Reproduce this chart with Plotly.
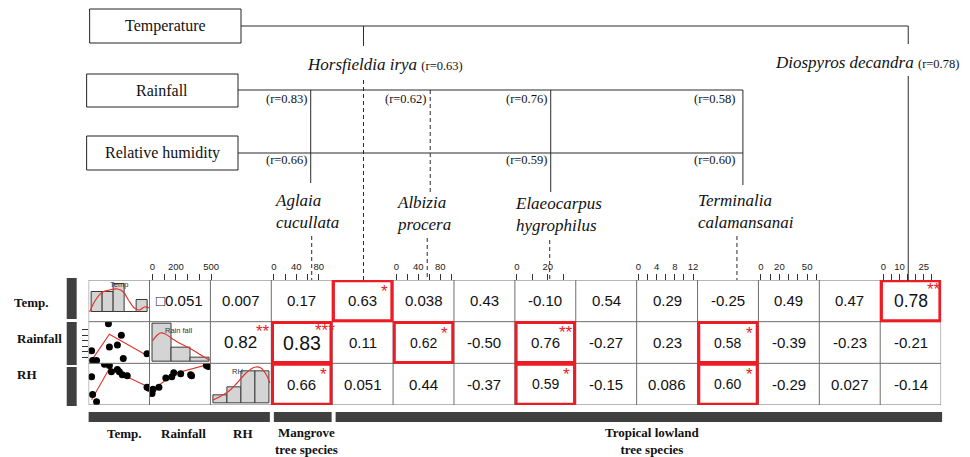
import plotly.graph_objects as go

W, H = 970, 457

# ---------------- data ----------------
row_labels = ["Temp.", "Rainfall", "RH"]
group_labels = ["Temp.", "Rainfall", "RH", "Mangrove<br>tree species", "Tropical lowland<br>tree species"]

r_temp = ["", "\u25a10.051", "0.007", "0.17", "0.63", "0.038", "0.43", "-0.10", "0.54", "0.29", "-0.25", "0.49", "0.47", "0.78"]
r_rain = ["", "", "0.82", "0.83", "0.11", "0.62", "-0.50", "0.76", "-0.27", "0.23", "0.58", "-0.39", "-0.23", "-0.21"]
r_rh = ["", "", "", "0.66", "0.051", "0.44", "-0.37", "0.59", "-0.15", "0.086", "0.60", "-0.29", "0.027", "-0.14"]
sig_temp = ["", "", "", "", "*", "", "", "", "", "", "", "", "", "**"]
sig_rain = ["", "", "**", "***", "", "*", "", "**", "", "", "*", "", "", ""]
sig_rh = ["", "", "", "*", "", "", "", "*", "", "", "*", "", "", ""]

env_boxes = ["Temperature", "Rainfall", "Relative humidity"]
sp_horsfieldia = ("Horsfieldia irya", "0.63")
sp_diospyros = ("Diospyros decandra", "0.78")
sp_two_line = ["Aglaia<br>cucullata", "Albizia<br>procera", "Elaeocarpus<br>hygrophilus", "Terminalia<br>calamansanai"]
r_rain_links = ["0.83", "0.62", "0.76", "0.58"]
r_rh_links = ["0.66", "0.59", "0.60"]

# top axis ticks of the variable columns
axis_cols = [1, 3, 5, 7, 9, 11, 13]
axis_ticks = [[0, 100, 200, 300, 400, 500], [0, 20, 40, 60, 80], [0, 20, 40, 60, 80, 100],
              [0, 10, 20, 30], [0, 2, 4, 6, 8, 10, 12], [0, 10, 20, 30, 40, 50, 60], [0, 5, 10, 15, 20, 25, 30]]
axis_labelled = [[0, 200, 500], [0, 40, 80], [0, 40, 80], [0, 20], [0, 4, 8, 12], [0, 20, 50], [0, 10, 25]]

# diagonal histograms (bin centres in panel units, counts)
temp_hist_x = [0.141, 0.324, 0.507, 0.690, 0.873]
temp_hist_n = [5, 5, 7, 0, 3]
temp_hist_w = 0.183
rain_hist_x = [0.202, 0.513, 0.824]
rain_hist_n = [8, 3, 1]
rain_hist_w = 0.311
rh_hist_x = [0.161, 0.394, 0.627, 0.860]
rh_hist_n = [1, 2, 4, 4]
rh_hist_w = 0.233

temp_dens_x = [0.016, 0.114, 0.229, 0.343, 0.474, 0.572, 0.654, 0.752, 0.834, 0.916, 0.998]
temp_dens_y = [0.0, 3.0, 5.0, 5.5, 5.75, 5.0, 3.0, 1.0, 0.5, 1.25, 1.0]
rain_dens_x = [0.047, 0.112, 0.178, 0.259, 0.357, 0.488, 0.652, 0.815, 0.979]
rain_dens_y = [4.42, 5.47, 6.1, 5.89, 5.05, 4.0, 2.95, 1.68, 0.42]
rh_dens_x = [0.044, 0.175, 0.306, 0.437, 0.568, 0.666, 0.748, 0.829, 0.911, 0.977]
rh_dens_y = [0.43, 0.93, 1.54, 2.53, 3.64, 4.26, 4.51, 4.38, 3.64, 2.53]

# scatter panels (panel units)
rt_x = [0.049, 0.065, 0.13, 0.325, 0.341, 0.472, 0.537, 0.569, 0.959]
rt_y = [0.302, 0.07, 0.07, 0.953, 0.395, 0.442, 0.674, 0.116, 0.233]
rt_fit_x = [0.049, 0.341, 0.959]
rt_fit_y = [0.07, 0.698, 0.186]

ht_x = [0.049, 0.065, 0.13, 0.26, 0.341, 0.374, 0.472, 0.504, 0.553, 0.634, 0.959, 0.992]
ht_y = [0.675, 0.25, 0.075, 0.975, 0.95, 0.8, 0.85, 0.8, 0.725, 0.7, 0.425, 0.4]
ht_fit_x = [0.049, 0.341, 0.992]
ht_fit_y = [0.125, 0.875, 0.425]

hr_x = [0.024, 0.057, 0.041, 0.154, 0.268, 0.366, 0.398, 0.512, 0.675, 0.691, 0.935, 0.967]
hr_y = [0.35, 0.375, 0.275, 0.425, 0.65, 0.675, 0.775, 0.75, 0.725, 0.7, 0.95, 0.925]
hr_fit_x = [0.024, 0.398, 0.967]
hr_fit_y = [0.325, 0.75, 0.975]

# ---------------- styling / geometry ----------------
SANS = "Liberation Sans, Arial, sans-serif"
SERIF = "Liberation Serif, Times New Roman, serif"
RED = "#ec1c24"
DARK = "#404040"
GRID = "#6e6e6e"
LINE = "#2a2a2a"

MX0, MX1, MY0, MY1 = 89.0, 945.0, 280.0, 405.0
NC, NR = 14, 3
cw = (MX1 - MX0) / NC
rh_ = (MY1 - MY0) / NR
col_edges = [MX0 + i * cw for i in range(NC + 1)]
row_edges = [MY0 + i * rh_ for i in range(NR + 1)]

fig = go.Figure()
layout_axes = {}
shapes = []
annots = []
counter = [2]

# main pixel axes
fig.add_trace(go.Scatter(x=[], y=[], xaxis="x", yaxis="y", showlegend=False, hoverinfo="skip"))
layout_axes["xaxis"] = dict(domain=[0, 1], range=[0, W], visible=False, fixedrange=True)
layout_axes["yaxis"] = dict(domain=[0, 1], range=[H, 0], visible=False, fixedrange=True)

# matrix axes
layout_axes["xaxis2"] = dict(domain=[MX0 / W, MX1 / W], range=[0, NC], visible=False, anchor="y2")
layout_axes["yaxis2"] = dict(domain=[1 - MY1 / H, 1 - MY0 / H], range=[NR, 0], visible=False, anchor="x2")
fig.add_trace(go.Scatter(x=[], y=[], xaxis="x2", yaxis="y2", showlegend=False, hoverinfo="skip"))


def new_axes(x0, x1, y0, y1, xr, yr, yextra=None):
    counter[0] += 1
    i = counter[0]
    layout_axes[f"xaxis{i}"] = dict(domain=[x0 / W, x1 / W], range=xr, visible=False, anchor=f"y{i}")
    ya = dict(domain=[1 - y1 / H, 1 - y0 / H], range=yr, visible=False, anchor=f"x{i}")
    if yextra:
        ya.update(yextra)
    layout_axes[f"yaxis{i}"] = ya
    return f"x{i}", f"y{i}"


def line(x0, y0, x1, y1, dash=None, width=1, color=LINE, xref="x", yref="y"):
    d = dict(type="line", x0=x0, y0=y0, x1=x1, y1=y1, xref=xref, yref=yref,
             line=dict(color=color, width=width))
    if dash:
        d["line"]["dash"] = dash
    shapes.append(d)


def rect(x0, y0, x1, y1, fill=None, lc=None, lw=1, xref="x", yref="y"):
    shapes.append(dict(type="rect", x0=x0, y0=y0, x1=x1, y1=y1, xref=xref, yref=yref,
                       fillcolor=fill if fill else "rgba(0,0,0,0)",
                       line=dict(color=lc if lc else "rgba(0,0,0,0)", width=lw if lc else 0)))


def text(x, y, s, size, family=SANS, color="#111", xanchor="center", yanchor="middle",
         xref="x", yref="y", xshift=0, yshift=0, align="center"):
    annots.append(dict(x=x, y=y, text=s, xref=xref, yref=yref, showarrow=False,
                       xanchor=xanchor, yanchor=yanchor, xshift=xshift, yshift=yshift, align=align,
                       font=dict(size=size, family=family, color=color)))


# ---------- histograms on the diagonal ----------
def hist_panel(c, r, xs, ns, w, dx, dy, yr, label, lab_xy):
    xa, ya = new_axes(col_edges[c], col_edges[c + 1], row_edges[r], row_edges[r + 1], [0, 1], yr)
    fig.add_trace(go.Bar(x=xs, y=ns, width=w, xaxis=xa, yaxis=ya, showlegend=False, hoverinfo="skip",
                         marker=dict(color="#d4d4d4", line=dict(color="#3a3a3a", width=1))))
    fig.add_trace(go.Scatter(x=dx, y=dy, xaxis=xa, yaxis=ya, mode="lines", showlegend=False,
                             hoverinfo="skip", line=dict(color="#e0352b", width=1.2, shape="spline")))
    text(lab_xy[0], lab_xy[1], label, 7.5, color="#333", xref=xa, yref=ya)


hist_panel(0, 0, temp_hist_x, temp_hist_n, temp_hist_w, temp_dens_x, temp_dens_y, [-2.42, 8.0], "Temp", (0.5, 7.0))
hist_panel(1, 1, rain_hist_x, rain_hist_n, rain_hist_w, rain_dens_x, rain_dens_y, [-0.27, 8.48], "Rain fall", (0.47, 6.6))
hist_panel(2, 2, rh_hist_x, rh_hist_n, rh_hist_w, rh_dens_x, rh_dens_y, [-0.185, 4.96], "RH", (0.45, 3.9))


# ---------- scatter panels ----------
def scatter_panel(c, r, xs, ys, fx, fy, yextra=None):
    xa, ya = new_axes(col_edges[c], col_edges[c + 1], row_edges[r], row_edges[r + 1], [0, 1], [0, 1], yextra)
    fig.add_trace(go.Scatter(x=fx, y=fy, xaxis=xa, yaxis=ya, mode="lines", showlegend=False,
                             hoverinfo="skip", line=dict(color="#e0352b", width=1.1)))
    fig.add_trace(go.Scatter(x=xs, y=ys, xaxis=xa, yaxis=ya, mode="markers", showlegend=False,
                             hoverinfo="skip", marker=dict(color="#000", size=7)))


scatter_panel(0, 1, rt_x, rt_y, rt_fit_x, rt_fit_y,
              yextra=dict(visible=True, showticklabels=False, ticks="outside", ticklen=6, tickcolor="#333",
                          tickvals=[0.15, 0.28, 0.41, 0.54, 0.67, 0.80], showline=False, showgrid=False,
                          zeroline=False))
scatter_panel(0, 2, ht_x, ht_y, ht_fit_x, ht_fit_y)
scatter_panel(1, 2, hr_x, hr_y, hr_fit_x, hr_fit_y)

# ---------- matrix grid ----------
for yv in range(NR + 1):
    line(0, yv, NC, yv, color=GRID, xref="x2", yref="y2")
for xv in range(NC + 1):
    line(xv, 0, xv, NR, color=GRID, xref="x2", yref="y2")

# ---------- correlation values ----------
big = {(1, 2): 17, (1, 3): 19.5, (0, 13): 17.5}
small = {(1, 5): 14, (2, 7): 14, (1, 10): 14, (2, 10): 14}
cw_map = {".": 0.278, "-": 0.333, "\u25a1": 0.6}


def tw(s, fs):
    return sum(cw_map.get(ch, 0.556) for ch in s) * fs


for r, (vals, sigs) in enumerate([(r_temp, sig_temp), (r_rain, sig_rain), (r_rh, sig_rh)]):
    for c, (v, sg) in enumerate(zip(vals, sigs)):
        if not v:
            continue
        fs = big.get((r, c), small.get((r, c), 15))
        text(c + 0.5, r + 0.5, v, fs, xref="x2", yref="y2")
        if sg:
            text(c + 0.5, r + 0.5, sg, 17, color=RED, xanchor="left", xref="x2", yref="y2",
                 xshift=tw(v, fs) / 2 + 2 - 5 * (len(sg) - 1), yshift=fs * 0.45 + 3)
            if c >= 3:
                rect(c + 0.02, r + 0.02, c + 0.98, r + 0.98, lc=RED, lw=3, xref="x2", yref="y2")

# ---------- top tick axes ----------
axis_zero_px = [153, 275, 398, 519, 641, 764, 887]
axis_ppu = [0.118, 0.5625, 0.55, 1.55, 4.58, 0.93, 1.62]
for k, (c, tv, tl) in enumerate(zip(axis_cols, axis_ticks, axis_labelled)):
    counter[0] += 1
    i = counter[0]
    z, p = axis_zero_px[k], axis_ppu[k]
    hi = max(tv)
    layout_axes[f"xaxis{i}"] = dict(
        domain=[(z - 4) / W, (z + hi * p + 4) / W], range=[-4 / p, hi + 4 / p], anchor="free",
        position=1 - MY0 / H, side="top", ticks="outside", ticklen=6, tickwidth=1, tickcolor="#333",
        tickvals=tv, ticktext=[str(t) if t in tl else "" for t in tv],
        tickfont=dict(size=9.5, family=SANS, color="#222"), showline=False, showgrid=False, zeroline=False)
    fig.add_trace(go.Scatter(x=[], y=[], xaxis=f"x{i}", yaxis="y", showlegend=False, hoverinfo="skip"))

# ---------- left and bottom dark bars ----------
for y0, y1 in [(278, 319), (322, 365), (367, 406)]:
    rect(67, y0, 77, y1, fill=DARK)
for x0, x1 in [(89, 271), (275, 333), (337, 946)]:
    rect(x0, 412, x1, 422, fill=DARK)

for lab, (x, y) in zip(row_labels, [(12, 302), (15, 338), (15, 374)]):
    text(x, y, f"<b>{lab}</b>", 13, family=SERIF, color="#111", xanchor="left")
for lab, (x, y) in zip(group_labels, [(125.5, 433), (184, 433), (244, 433), (308, 441), (655.5, 441)]):
    text(x, y, f"<b>{lab}</b>", 13, family=SERIF, color="#111")

# ---------- top diagram ----------
for lab, (x0, y0, x1, y1) in zip(env_boxes, [(90, 9, 242, 43), (87, 74, 239, 107), (87, 136, 239, 170)]):
    rect(x0, y0, x1, y1, lc="#222", lw=1)
    text((x0 + x1) / 2, (y0 + y1) / 2, lab, 16, family=SERIF, color="#111")

# solid connectors
line(242, 26, 912, 26)
line(365, 26, 365, 46)
line(912, 26, 912, 44)
line(912, 76, 912, 281)
line(239, 90, 746, 90)
line(239, 153, 746, 153)
line(312, 90, 312, 183)
line(553, 90, 553, 192)
line(746, 90, 746, 185)
# dashed connectors
DSH = "4px,3px"
line(365, 80, 365, 280, dash=DSH)
line(432, 90, 432, 192, dash=DSH)
line(313, 236, 313, 280, dash=DSH)
line(429, 238, 429, 280, dash=DSH)
line(552, 240, 552, 280, dash=DSH)
line(740, 236, 740, 280, dash=DSH)

text(306, 64, f"<i>{sp_horsfieldia[0]}</i> <span style='font-size:12.5px'>(r={sp_horsfieldia[1]})</span>",
     17, family=SERIF, color="#111", xanchor="left")
text(776, 62, f"<i>{sp_diospyros[0]}</i> <span style='font-size:12.5px'>(r={sp_diospyros[1]})</span>",
     17, family=SERIF, color="#111", xanchor="left")

for lab, (x, y) in zip(sp_two_line, [(274, 211), (397, 213), (515, 214), (699, 211)]):
    text(x, y, f"<i>{lab}</i>", 17, family=SERIF, color="#111", xanchor="left", align="left")

for rv, x in zip(r_rain_links, [310, 430, 551, 740]):
    text(x, 99, f"(r={rv})", 12.5, family=SERIF, color="#111", xanchor="right")
for rv, x in zip(r_rh_links, [310, 551, 740]):
    text(x, 160, f"(r={rv})", 12.5, family=SERIF, color="#111", xanchor="right")

fig.update_layout(width=W, height=H, margin=dict(l=0, r=0, t=0, b=0), paper_bgcolor="white",
                  plot_bgcolor="rgba(0,0,0,0)", showlegend=False, bargap=0, autosize=False,
                  shapes=shapes, annotations=annots, **layout_axes)
fig.write_html("out.html", config={"displayModeBar": False, "responsive": False},
               post_script=("document.documentElement.style.overflow='hidden';"
                            "document.body.style.margin='0';document.body.style.overflow='hidden';"))
